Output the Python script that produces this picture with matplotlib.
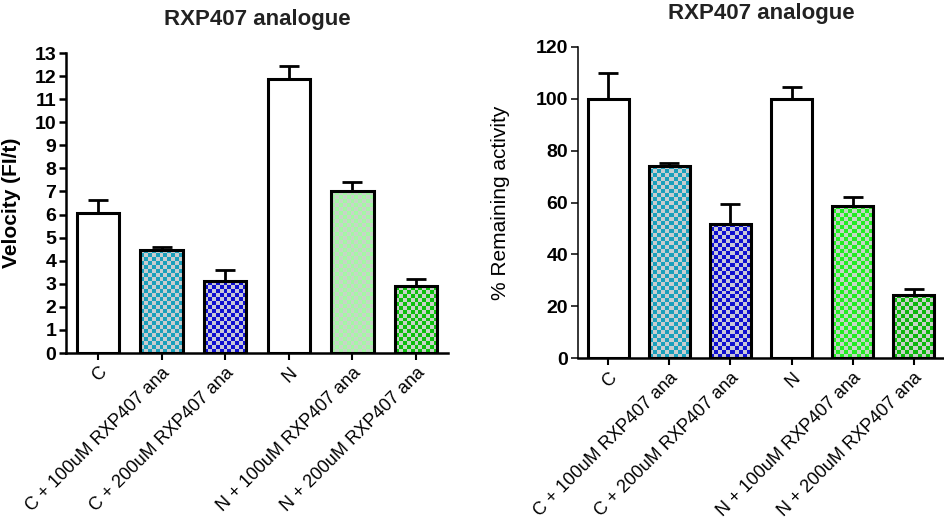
import numpy as np
import matplotlib
matplotlib.use('Agg')
import matplotlib.pyplot as plt
from matplotlib.colors import to_rgb

plt.rcParams['font.family'] = ['Liberation Sans', 'DejaVu Sans']

categories = ["C", "C + 100uM RXP407 ana", "C + 200uM RXP407 ana",
              "N", "N + 100uM RXP407 ana", "N + 200uM RXP407 ana"]
velocity = [6.05, 4.48, 3.1, 11.88, 7.0, 2.9]
velocity_err = [0.57, 0.1, 0.5, 0.57, 0.4, 0.3]
remaining = [100, 74, 51.7, 100, 58.8, 24.4]
remaining_err = [9.7, 1.3, 7.7, 4.6, 3.4, 2.4]
left_fill = [None, ('#1aa0bc', '#c9cdcf'), ('#1010d0', '#c8c8d8'),
             None, ('#a3f8a3', '#c8d4c8'), ('#0cc00c', '#c8d2c8')]
right_fill = [None, ('#1aa0bc', '#c9cdcf'), ('#1010d0', '#c8c8d8'),
              None, ('#22ee22', '#c8d4c8'), ('#0cb80c', '#c8d2c8')]
title = "RXP407 analogue"

fig = plt.figure(figsize=(9.45, 5.23), dpi=100)
axL = fig.add_axes([66/945, 1-353/523, (448-66)/945, (353-53)/523])
axR = fig.add_axes([578/945, 1-358.3/523, (944-578)/945, (358.3-46.7)/523])


def checker(ax, rect, c1, c2, cell_px=4.0):
    x0, y0 = rect.get_x(), rect.get_y()
    w, h = rect.get_width(), rect.get_height()
    p0 = ax.transData.transform((x0, y0))
    p1 = ax.transData.transform((x0 + w, y0 + h))
    nx = max(1, int(round(abs(p1[0] - p0[0]) / cell_px)))
    ny = max(1, int(round(abs(p1[1] - p0[1]) / cell_px)))
    ii, jj = np.indices((ny, nx))
    mask = (ii + jj) % 2 == 0
    img = np.where(mask[..., None], np.array(to_rgb(c1)), np.array(to_rgb(c2)))
    im = ax.imshow(img, extent=(x0, x0 + w, y0, y0 + h), origin='lower',
                   aspect='auto', interpolation='nearest', zorder=1.5)
    im.set_clip_path(rect)


def draw(ax, vals, errs, fills, ylim, yticks, ylabel, ylabel_bold, label_x, spine_lw_left):
    x = np.arange(len(vals))
    ax.set_xlim(-0.5, len(vals) - 0.5)
    ax.set_ylim(*ylim)
    ax.errorbar(x, vals, yerr=[np.zeros(len(errs)), errs], fmt='none',
                ecolor='black', elinewidth=2.0, capsize=7, capthick=2.0, zorder=1)
    bars = ax.bar(x, vals, width=0.67, facecolor='white', edgecolor='black',
                  linewidth=2.2, zorder=2)
    for b, f in zip(bars, fills):
        if f is not None:
            b.set_facecolor('none')
            checker(ax, b, f[0], f[1])
    ax.set_xlim(-0.5, len(vals) - 0.5)
    ax.set_ylim(*ylim)
    ax.set_yticks(yticks)
    ax.set_xticks(x)
    ax.set_xticklabels(categories, rotation=45, ha='right', va='top',
                       rotation_mode='anchor', fontsize=13)
    for lab in ax.get_yticklabels():
        lab.set_fontweight('bold')
        lab.set_fontsize(14)
    for s in ['top', 'right']:
        ax.spines[s].set_visible(False)
    ax.spines['left'].set_linewidth(spine_lw_left)
    ax.spines['bottom'].set_linewidth(1.8)
    ax.tick_params(axis='y', direction='out', length=5, width=spine_lw_left, pad=2)
    ax.tick_params(axis='x', direction='out', length=5, width=1.5, pad=3)
    ax.set_ylabel(ylabel, fontsize=15,
                  fontweight='bold' if ylabel_bold else 'normal')
    ax.yaxis.set_label_coords(label_x, 0.5)
    ax.set_title(title, fontsize=16, fontweight='bold', pad=20, color='#222222')


draw(axL, velocity, velocity_err, left_fill, (0, 13), np.arange(0, 14, 1),
     "Velocity (FI/t)", True, -0.117, 1.8)
draw(axR, remaining, remaining_err, right_fill, (0, 120), np.arange(0, 121, 20),
     "% Remaining activity", False, -0.185, 1.1)

fig.savefig('out.png', dpi=100)
